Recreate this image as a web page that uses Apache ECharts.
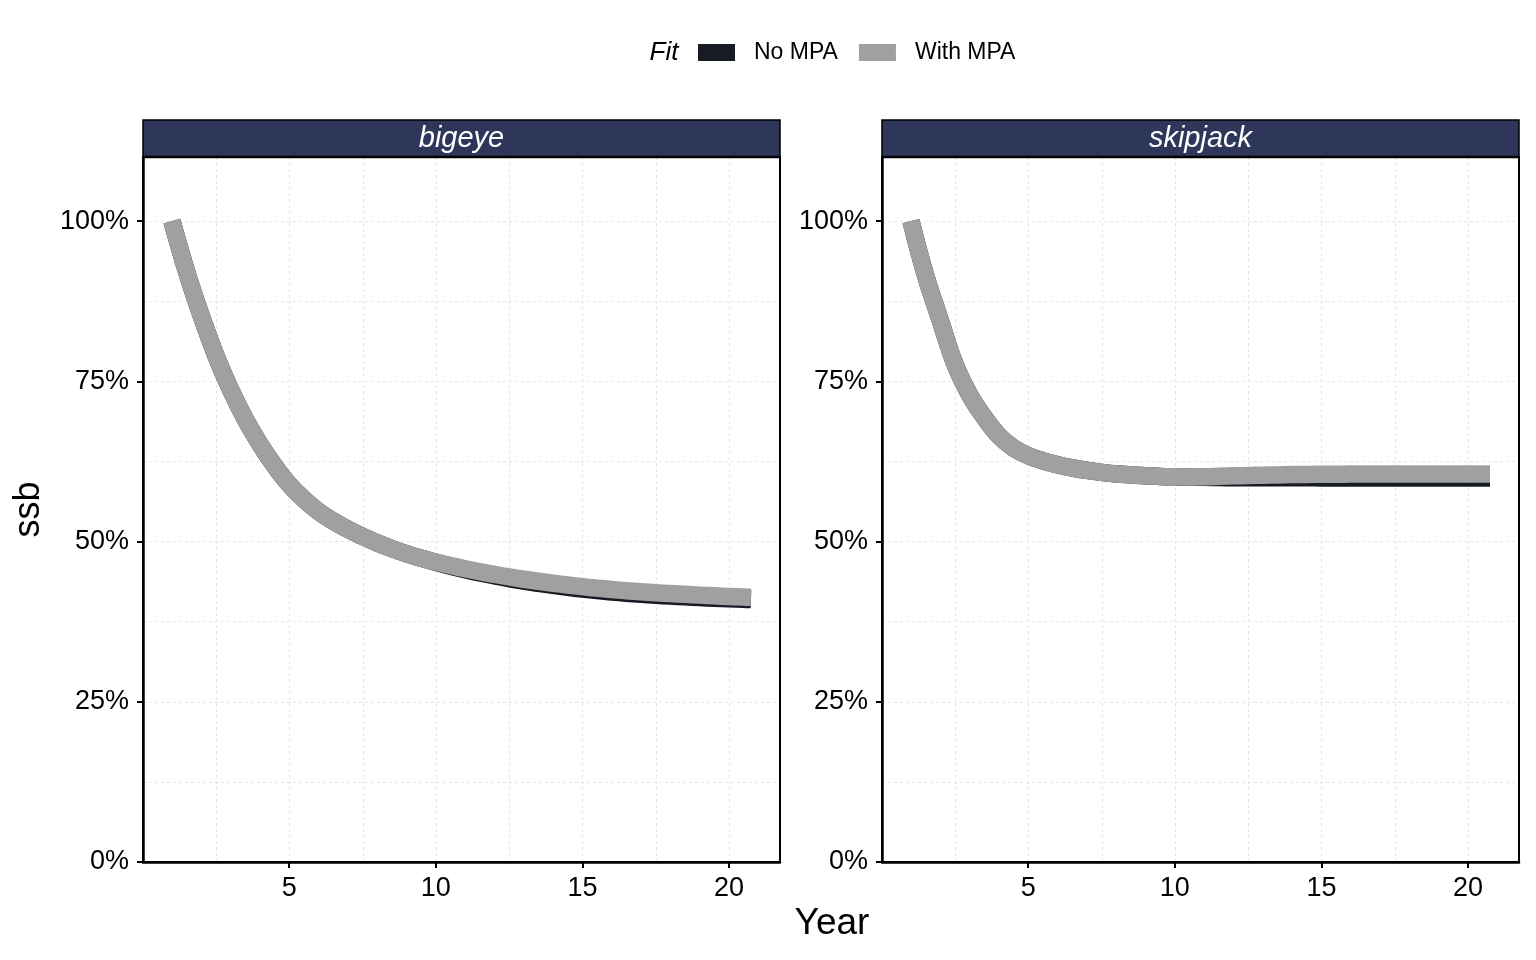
<!DOCTYPE html>
<html><head><meta charset="utf-8">
<script src="https://cdn.jsdelivr.net/npm/echarts@6/dist/echarts.min.js"></script>
<style>html,body{margin:0;padding:0;background:#fff}#c{width:1536px;height:960px}</style>
</head><body><div id="c"></div>
<script>
const years = [1, 1.5, 2, 2.5, 3, 3.5, 4, 4.5, 5, 5.5, 6, 6.5, 7, 7.5, 8, 8.5, 9, 9.5, 10, 10.5, 11, 11.5, 12, 12.5, 13, 13.5, 14, 14.5, 15, 15.5, 16, 16.5, 17, 17.5, 18, 18.5, 19, 19.5, 20, 20.5, 20.75];
const bigeyeNoMPA = [1.000, 0.921, 0.852, 0.790, 0.737, 0.691, 0.652, 0.618, 0.589, 0.566, 0.547, 0.532, 0.519, 0.508, 0.498, 0.489, 0.481, 0.474, 0.4675,
  0.4615, 0.456, 0.451, 0.4465, 0.4422, 0.4382, 0.4347, 0.4315, 0.4286, 0.4259, 0.4235, 0.4213, 0.4194, 0.4177, 0.4162, 0.4149, 0.4137, 0.4126, 0.4116, 0.4106, 0.4098, 0.4094];
const bigeyeWithMPA = [1.000, 0.921, 0.852, 0.790, 0.737, 0.691, 0.652, 0.618, 0.589, 0.566, 0.547, 0.532, 0.519, 0.508, 0.498, 0.489, 0.481, 0.474, 0.468,
  0.4625, 0.4575, 0.453, 0.4488, 0.4448, 0.4412, 0.438, 0.435, 0.4322, 0.4296, 0.4273, 0.4252, 0.4233, 0.4216, 0.4201, 0.4188, 0.4176, 0.4164, 0.4153, 0.4142, 0.4133, 0.4129];
const skipjackNoMPA = [1.000, 0.915, 0.845, 0.777, 0.729, 0.694, 0.665, 0.646, 0.634, 0.626, 0.620, 0.615, 0.611, 0.608, 0.6055, 0.604, 0.6025, 0.6015, 0.601,
  0.6006, 0.6002, 0.5998, 0.5996, 0.5995, 0.5995, 0.5994, 0.5994, 0.5994, 0.5993, 0.5993, 0.5993, 0.5993, 0.5993, 0.5993, 0.5993, 0.5993, 0.5993, 0.5993, 0.5993, 0.5993, 0.5993];
const skipjackWithMPA = [1.000, 0.915, 0.845, 0.777, 0.729, 0.694, 0.665, 0.646, 0.634, 0.626, 0.620, 0.615, 0.611, 0.608, 0.6055, 0.604, 0.6025, 0.6015, 0.601,
  0.6008, 0.601, 0.6017, 0.6025, 0.603, 0.6035, 0.604, 0.6045, 0.6048, 0.605, 0.6051, 0.6052, 0.6053, 0.6053, 0.6054, 0.6054, 0.6055, 0.6055, 0.6055, 0.6055, 0.6055, 0.6055];
const species = ['bigeye', 'skipjack'];
const fits = ['No MPA', 'With MPA'];
const xTicks = [5, 10, 15, 20];
const yTicks = [0, 0.25, 0.5, 0.75, 1.0];

const FONT = 'Liberation Sans, Arial, Helvetica, sans-serif';
const colors = {'No MPA': '#161B24', 'With MPA': '#A0A0A0'};
const panels = [{left: 143}, {left: 882}];
const PW = 637, PTOP = 157, PH = 705;

const pairs = (vals) => years.map((y, i) => [y, vals[i]]);

const grids = panels.map(p => ({left: p.left, top: PTOP, width: PW, height: PH, show: true, borderColor: '#000', borderWidth: 0, backgroundColor: '#fff'}));

const xAxes = [], yAxes = [];
panels.forEach((p, i) => {
  xAxes.push({
    type: 'value', gridIndex: i, min: 0.0125, max: 21.74,
    axisLine: {show: true, onZero: false, lineStyle: {color: '#000', width: 2.5}},
    axisTick: {show: true, length: 6, customValues: xTicks, lineStyle: {color: '#000', width: 2}},
    axisLabel: {customValues: xTicks, fontSize: 27, color: '#000', fontFamily: FONT, margin: 13},
    splitLine: {show: false}
  });
  yAxes.push({
    type: 'value', gridIndex: i, min: 0, max: 1.1,
    name: i === 0 ? 'ssb' : '', nameLocation: 'middle', nameGap: 96, nameRotate: 90,
    nameTextStyle: {fontSize: 36, color: '#000', fontFamily: FONT},
    axisLine: {show: true, onZero: false, lineStyle: {color: '#000', width: 2.5}},
    axisTick: {show: true, length: 6, customValues: yTicks, lineStyle: {color: '#000', width: 2}},
    axisLabel: {customValues: yTicks, fontSize: 27, color: '#000', fontFamily: FONT, margin: 14,
      formatter: v => Math.round(v * 100) + '%'},
    splitLine: {show: false}
  });
});
panels.forEach((p, i) => {
  xAxes.push({
    type: 'value', gridIndex: i, min: 0, max: 21.74, interval: 2.5, z: 0,
    axisLine: {show: false}, axisTick: {show: false}, axisLabel: {show: false},
    splitLine: {show: true, lineStyle: {color: '#E6E6E6', width: 1, type: [3, 3]}}
  });
  yAxes.push({
    type: 'value', gridIndex: i, min: 0, max: 1.1, interval: 0.125, z: 0,
    axisLine: {show: false}, axisTick: {show: false}, axisLabel: {show: false},
    splitLine: {show: true, lineStyle: {color: '#E6E6E6', width: 1, type: [3, 3]}}
  });
});

const seriesData = [
  ['No MPA', 0, bigeyeNoMPA], ['With MPA', 0, bigeyeWithMPA],
  ['No MPA', 1, skipjackNoMPA], ['With MPA', 1, skipjackWithMPA]
];
const series = seriesData.map(([name, idx, vals]) => ({
  type: 'line', name, xAxisIndex: idx, yAxisIndex: idx,
  data: pairs(vals), showSymbol: false, symbol: 'none',
  smooth: 0.4,
  itemStyle: {color: colors[name]},
  lineStyle: {color: colors[name], width: 17.5, cap: 'butt', join: 'round'},
  z: name === 'No MPA' ? 2 : 3
}));

const graphics = [];
panels.forEach((p, i) => {
  graphics.push({type: 'rect', shape: {x: p.left, y: PTOP, width: PW, height: PH},
    style: {fill: 'none', stroke: '#000', lineWidth: 2}, z: 9});
  graphics.push({type: 'rect', shape: {x: p.left, y: 120, width: PW, height: 37},
    style: {fill: '#2E365A', stroke: '#000', lineWidth: 1.5}, z: 10});
  graphics.push({type: 'line', shape: {x1: p.left, y1: 157, x2: p.left + PW, y2: 157},
    style: {stroke: '#000', lineWidth: 2.5}, z: 11});
  graphics.push({type: 'text', x: p.left + PW / 2, y: 139,
    style: {text: species[i], fill: '#fff', font: 'italic 29px ' + FONT, textAlign: 'center', textVerticalAlign: 'middle'}, z: 11});
});
graphics.push({type: 'text', x: 832, y: 924,
  style: {text: 'Year', fill: '#000', font: '37px ' + FONT, textAlign: 'center', textVerticalAlign: 'middle'}});
graphics.push({type: 'text', x: 664, y: 53,
  style: {text: 'Fit', fill: '#000', font: 'italic 26px ' + FONT, textAlign: 'center', textVerticalAlign: 'middle'}});

const chart = echarts.init(document.getElementById('c'), null, {renderer: 'canvas'});
chart.setOption({
  animation: false,
  backgroundColor: '#fff',
  legend: {
    data: fits.map(f => ({name: f, icon: 'rect', itemStyle: {color: colors[f]}})),
    left: 693, top: 36, itemWidth: 37, itemHeight: 17, itemGap: 21,
    textStyle: {fontSize: 23, color: '#000', fontFamily: FONT, padding: [0, 0, 0, 14]},
    selectedMode: false
  },
  grid: grids,
  xAxis: xAxes,
  yAxis: yAxes,
  series,
  graphic: graphics
});
</script></body></html>
